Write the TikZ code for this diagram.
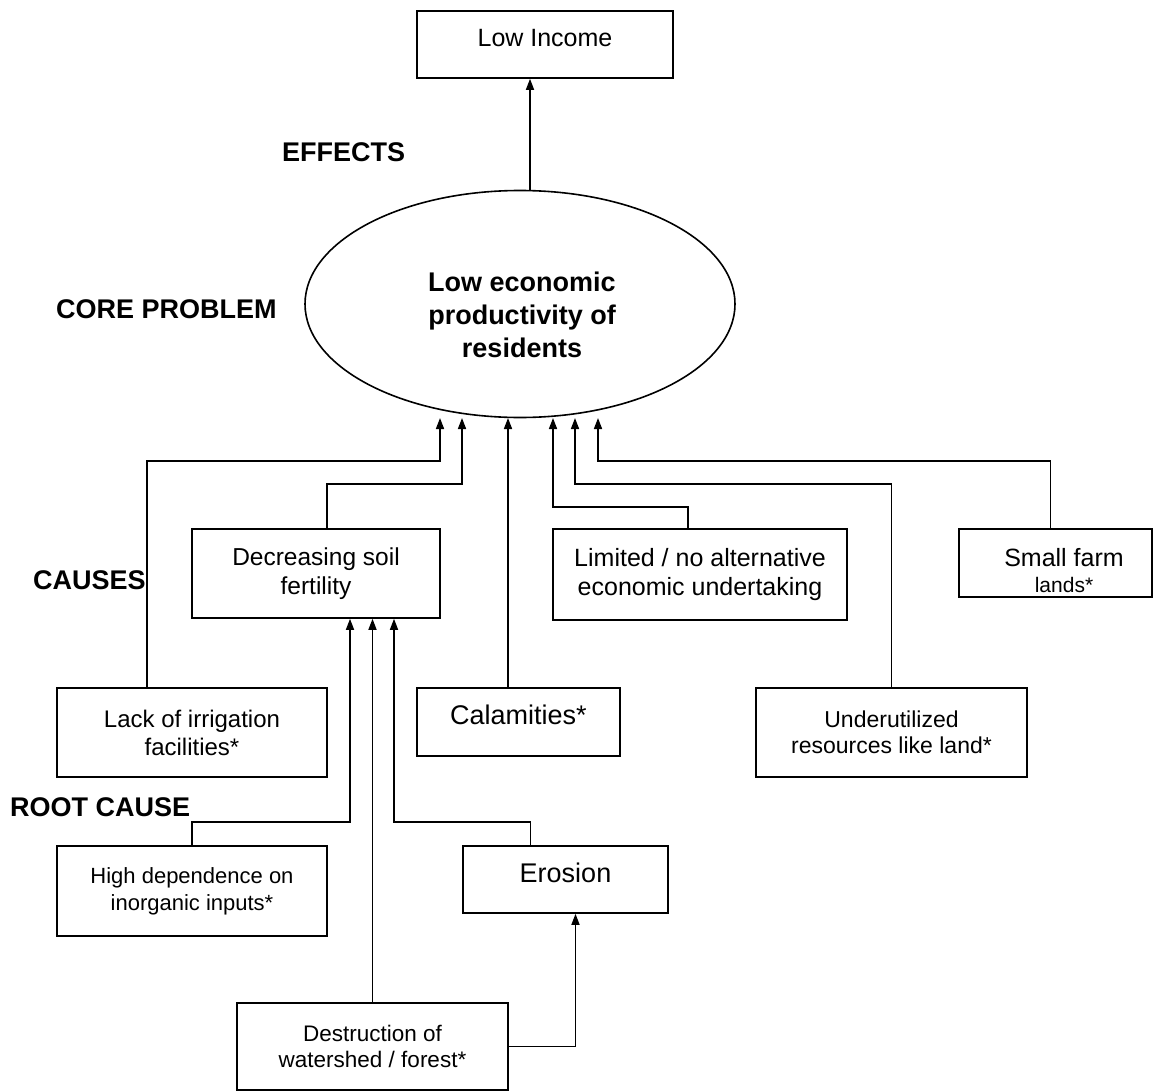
\documentclass[tikz,border=0pt]{standalone}
\usepackage{fontspec}
\setmainfont{Liberation Sans}
\usetikzlibrary{arrows.meta,positioning,shapes.geometric}
\newcommand{\fsz}[2]{\fontsize{#1}{#2}\selectfont}
\tikzset{
  ar/.style={-{Triangle[length=11pt,width=8pt]},line width=1.6pt},
  box/.style={draw,line width=1.6pt,align=center,inner sep=0pt},
  tag/.style={anchor=west,inner sep=0pt,font=\bfseries\fsz{27}{32}}
}
\begin{document}
\begin{tikzpicture}[x=1pt,y=-1pt]
\useasboundingbox (0,0) rectangle (1154,1092);
% effect and core problem
\node[box,minimum width=256,minimum height=67,font=\fsz{25}{30},text height=18pt,text depth=14pt] (inc) at (545,44.5) {Low Income};
\node[draw,ellipse,line width=1.6pt,minimum width=430,minimum height=227,inner sep=0pt] (core) at (520,304) {};
\node[align=center,font=\bfseries\fsz{27}{33}] (coretxt) at (522,315) {Low economic\\productivity of\\residents};
\node[tag] (effects) at (282,152) {EFFECTS};
\node[tag] (coreprob) at (56,309) {CORE PROBLEM};
\node[tag] (causes) at (33,580) {CAUSES};
\node[tag] (rootcause) at (10,807) {ROOT CAUSE};
% causes
\node[box,minimum width=248,minimum height=89,font=\fsz{24.5}{29}] (dec) at (316,573.5) {Decreasing soil\\fertility};
\node[box,minimum width=294,minimum height=91,font=\fsz{25}{29}] (lim) at (700,574.5) {Limited / no alternative\\economic undertaking};
\node[box,minimum width=193,minimum height=68] (farm) at (1055.5,563) {};
\node[align=center,font=\fsz{25}{29}] (farmtxt) at (1064,571) {Small farm\\[-3pt]{\fsz{21}{25}lands*}};
\node[box,minimum width=270,minimum height=89,font=\fsz{24}{28}] (irr) at (192,732.5) {Lack of irrigation\\facilities*};
\node[box,minimum width=203,minimum height=68,font=\fsz{27}{32},text height=20pt,text depth=14.5pt] (cal) at (518.5,722) {Calamities*};
\node[box,minimum width=271,minimum height=89,font=\fsz{23}{26}] (und) at (891.5,732.5) {Underutilized\\resources like land*};
% root causes
\node[box,minimum width=270,minimum height=90,font=\fsz{22}{27}] (dep) at (192,891) {High dependence on\\inorganic inputs*};
\node[box,minimum width=205,minimum height=67,font=\fsz{27}{32},text height=19.7pt,text depth=13.4pt] (ero) at (565.5,879.5) {Erosion};
\node[box,minimum width=271,minimum height=87,font=\fsz{22.5}{26}] (des) at (372.5,1046.5) {Destruction of\\watershed / forest*};
% arrow ends under the ellipse and line levels
\foreach \n/\x in {1/440,2/462,3/508,4/553,5/575,6/598}{\coordinate (in\n) at (\x,418);}
\coordinate (lvA) at (0,461);
\coordinate (lvB) at (0,484);
\coordinate (lvC) at (0,507);
\coordinate (up) at (530,0);
% connectors
\draw[ar] (core.north -| up) -- (inc.south -| up);
\draw[ar] ([xshift=-45]irr.north) |- (in1 |- lvA) -- (in1);
\draw[ar] ([xshift=11]dec.north) |- (in2 |- lvB) -- (in2);
\draw[ar] (cal.north -| in3) -- (in3);
\draw[ar] ([xshift=-12]lim.north) |- (in4 |- lvC) -- (in4);
\draw[ar] (und.north) |- (in5 |- lvB) -- (in5);
\draw[ar] ([xshift=-5]farm.north) |- (in6 |- lvA) -- (in6);
\draw[ar] (dep.north) -- ++(0,-23) -| ([xshift=34]dec.south);
\draw[ar] (des.north) -- (des.north |- dec.south);
\draw[ar] ([xshift=-35]ero.north) -- ++(0,-23) -| ([xshift=78]dec.south);
\draw[ar] (des.east) -| ([xshift=10]ero.south);
\end{tikzpicture}
\end{document}
